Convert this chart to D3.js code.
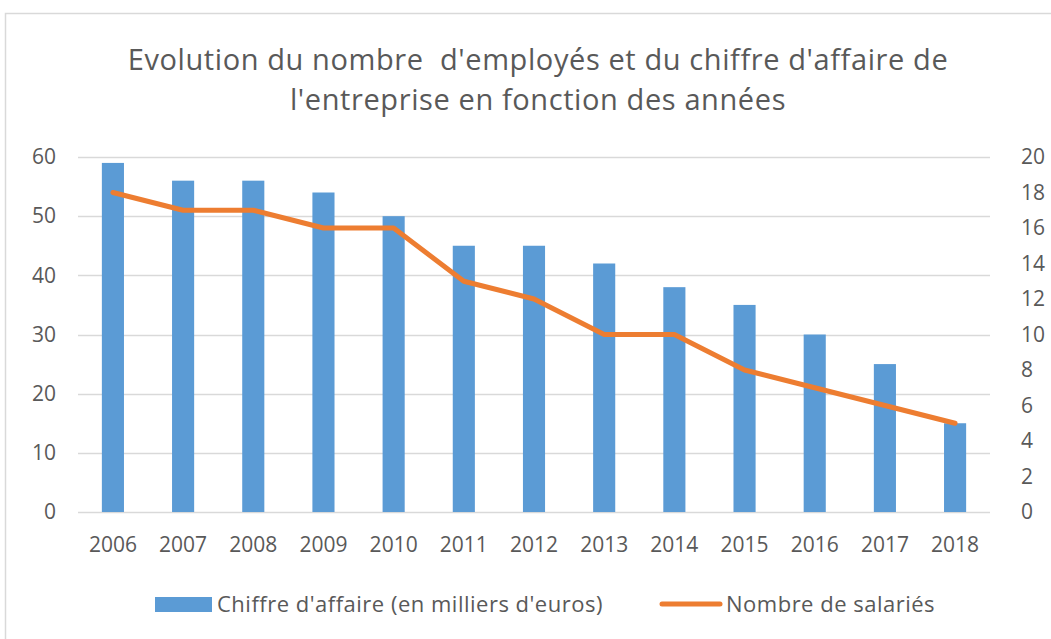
<!DOCTYPE html>
<html>
<head>
<meta charset="utf-8">
<script src="https://cdn.jsdelivr.net/npm/d3@7"></script>
<style>
  html, body { margin: 0; padding: 0; background: #fff; }
  svg { display: block; }
  text { font-family: "Open Sans", "Liberation Sans", sans-serif; fill: #595959; white-space: pre; }
</style>
</head>
<body>
<svg id="chart" width="1051" height="639"></svg>
<script>
const years = ["2006","2007","2008","2009","2010","2011","2012","2013","2014","2015","2016","2017","2018"];
const chiffreAffaire = [59, 56, 56, 54, 50, 45, 45, 42, 38, 35, 30, 25, 15];
const salaries = [18, 17, 17, 16, 16, 13, 12, 10, 10, 8, 7, 6, 5];
const leftTicks = [0, 10, 20, 30, 40, 50, 60];
const rightTicks = [0, 2, 4, 6, 8, 10, 12, 14, 16, 18, 20];
const titleLines = ["Evolution du nombre  d'employés et du chiffre d'affaire de", "l'entreprise en fonction des années"];
const seriesNames = ["Chiffre d'affaire (en milliers d'euros)", "Nombre de salariés"];

const svg = d3.select("#chart");
const W = 1051, H = 639;
const plot = { left: 78, right: 990, top: 157, bottom: 512 };
const FONT = "'Open Sans', sans-serif";

// chart frame
svg.append("rect").attr("x", 5.5).attr("y", 13.5).attr("width", W + 10).attr("height", H + 10)
  .attr("fill", "#fff").attr("stroke", "#d9d9d9").attr("stroke-width", 1.5);

// title
svg.append("g").selectAll("text").data(titleLines).join("text")
  .attr("x", 538).attr("y", (d, i) => 70 + i * 40)
  .attr("text-anchor", "middle").attr("font-size", 29).style("font-family", FONT)
  .style("letter-spacing", "0.6px")
  .text(d => d);

const x = d3.scaleBand().domain(years).range([plot.left, plot.right]).paddingInner(0.685).paddingOuter(0.34);
const yL = d3.scaleLinear().domain([0, 60]).range([plot.bottom, plot.top]);
const yR = d3.scaleLinear().domain([0, 20]).range([plot.bottom, plot.top]);

// gridlines
svg.append("g").selectAll("line").data(leftTicks).join("line")
  .attr("x1", plot.left).attr("x2", plot.right)
  .attr("y1", d => Math.round(yL(d)) + 0.5).attr("y2", d => Math.round(yL(d)) + 0.5)
  .attr("stroke", "#d9d9d9").attr("stroke-width", 1.5);

// bars
svg.append("g").selectAll("rect").data(years).join("rect")
  .attr("x", d => x(d)).attr("width", x.bandwidth())
  .attr("y", (d, i) => yL(chiffreAffaire[i]))
  .attr("height", (d, i) => yL(0) - yL(chiffreAffaire[i]))
  .attr("fill", "#5b9bd5");

// line
const line = d3.line().x((d, i) => x(years[i]) + x.bandwidth() / 2).y(d => yR(d));
svg.append("path").datum(salaries).attr("d", line)
  .attr("fill", "none").attr("stroke", "#ed7d31").attr("stroke-width", 5)
  .attr("stroke-linejoin", "round").attr("stroke-linecap", "round");

// axes
const axisL = d3.axisLeft(yL).tickValues(leftTicks).tickSize(0).tickPadding(22);
const gL = svg.append("g").attr("transform", `translate(${plot.left},0)`).call(axisL);
const axisR = d3.axisRight(yR).tickValues(rightTicks).tickSize(0).tickPadding(31);
const gR = svg.append("g").attr("transform", `translate(${plot.right},0)`).call(axisR);
const axisX = d3.axisBottom(x).tickSize(0).tickPadding(25);
const gX = svg.append("g").attr("transform", `translate(0,${plot.bottom})`).call(axisX);
[gL, gR, gX].forEach(g => {
  g.select(".domain").remove();
  g.selectAll("text").attr("font-size", 21).style("font-family", FONT).attr("fill", "#595959");
});

// legend
const lg = svg.append("g");
lg.append("rect").attr("x", 155).attr("y", 597).attr("width", 57).attr("height", 15).attr("fill", "#5b9bd5");
lg.append("text").attr("x", 217).attr("y", 612).attr("font-size", 22).style("letter-spacing", "0.5px").text(seriesNames[0]);
lg.append("line").attr("x1", 662).attr("x2", 720).attr("y1", 604).attr("y2", 604)
  .attr("stroke", "#ed7d31").attr("stroke-width", 5).attr("stroke-linecap", "round");
lg.append("text").attr("x", 726).attr("y", 612).attr("font-size", 22).style("letter-spacing", "0.5px").text(seriesNames[1]);
</script>
</body>
</html>
